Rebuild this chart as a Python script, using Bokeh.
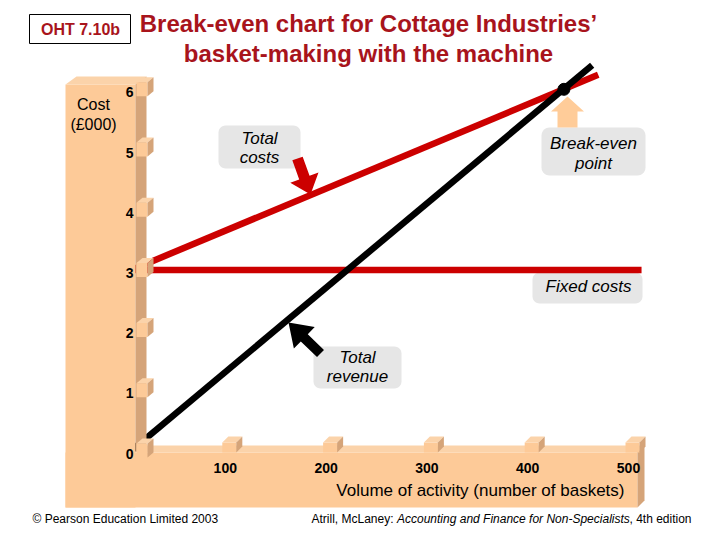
import numpy as np
from bokeh.plotting import figure
from bokeh.models import Range1d
from bokeh.core.properties import value
from bokeh.embed import file_html
from bokeh.resources import INLINE

# ---- data: costs and revenue in £000 against number of baskets ----
volume_ticks = [100, 200, 300, 400, 500]
volume_tick_labels = ["100", "200", "300", "400", "500"]
cost_ticks = [0, 1, 2, 3, 4, 5, 6]
cost_tick_labels = ["0", "1", "2", "3", "4", "5", "6"]

revenue_volume = [0, 457]
total_revenue = [0.0, 6.40]
total_cost_volume = [0, 463]
total_costs = [3.0, 6.24]
fixed_cost_volume = [0, 506]
fixed_costs = [3.0, 3.0]
break_even_volume = [429]
break_even_cost = [6.0]

# ---- canvas geometry: one frame covering the whole page ----
W, H = 720, 540
X0, SX = 131.0, 1.008   # pixel of zero baskets, pixels per basket
Y0, SY = 450.0, 60.2    # pixel of £0, pixels per £000

FONT = value("Liberation Sans")
TITLE_RED = "#A8141C"
LINE_RED = "#CC0000"
TAN = "#FDCA98"
TAN_TOP = "#FBD3AA"
TAN_SIDE = "#D5A479"
CALLOUT = "#E6E6E6"


def to_px(q):
    return X0 + SX * q


def to_py(c):
    return Y0 - SY * c


def dx(px):
    return (np.asarray(px, dtype=float) - X0) / SX


def dy(py):
    return (Y0 - np.asarray(py, dtype=float)) / SY


p = figure(width=W, height=H, output_backend="svg", toolbar_location=None,
           x_range=Range1d(float(dx(0)), float(dx(W))),
           y_range=Range1d(float(dy(H)), float(dy(0))),
           x_axis_type=None, y_axis_type=None, min_border=0)
p.grid.visible = False
p.outline_line_color = None
p.background_fill_color = "white"
p.border_fill_color = "white"


def poly(pts, color, line_color=None, line_width=1):
    xs = [float(dx(a)) for a, b in pts]
    ys = [float(dy(b)) for a, b in pts]
    p.patch(xs, ys, fill_color=color, line_color=line_color, line_width=line_width)


def rounded_box(x0, y0, x1, y1, r, color):
    pts = []
    corners = [(x1 - r, y0 + r, 270, 360), (x1 - r, y1 - r, 0, 90),
               (x0 + r, y1 - r, 90, 180), (x0 + r, y0 + r, 180, 270)]
    for cx, cy, a0, a1 in corners:
        for t in np.radians(np.linspace(a0, a1, 8)):
            pts.append((cx + r * np.cos(t), cy + r * np.sin(t)))
    poly(pts, color)


def arrow(x0, y0, x1, y1, shaft_w, head_w, head_len, color):
    v = np.array([x1 - x0, y1 - y0], dtype=float)
    u = v / np.hypot(*v)
    n = np.array([-u[1], u[0]])
    s = np.array([x0, y0], dtype=float)
    t = np.array([x1, y1], dtype=float)
    neck = t - u * head_len
    pts = [s + n * shaft_w / 2, neck + n * shaft_w / 2, neck + n * head_w / 2, t,
           neck - n * head_w / 2, neck - n * shaft_w / 2, s - n * shaft_w / 2]
    poly([tuple(q) for q in pts], color)


def txt(px, py, s, size, color="black", style="normal", align="center"):
    p.text(x=[float(dx(px))], y=[float(dy(py))], text=[s], text_align=align,
           text_baseline="middle", text_font=FONT, text_font_size=f"{size}px",
           text_font_style=style, text_color=color)


# ---- callout boxes (behind the lines) ----
rounded_box(218, 125, 300, 168, 7, CALLOUT)    # Total costs
rounded_box(541, 127, 645, 175, 8, CALLOUT)    # Break-even point
rounded_box(532, 272, 642, 303, 7, CALLOUT)    # Fixed costs
rounded_box(313, 346, 401, 388, 7, CALLOUT)    # Total revenue

# ---- cost and revenue lines ----
p.line(fixed_cost_volume, fixed_costs, line_color=LINE_RED, line_width=6.5)
p.line(total_cost_volume, total_costs, line_color=LINE_RED, line_width=6.5)
p.line(revenue_volume, total_revenue, line_color="black", line_width=6.5)

# ---- raised 3D axes ----
# vertical bar
poly([(65, 84), (135, 84), (135, 507), (65, 507)], TAN)
poly([(65, 84), (135, 84), (146, 76), (76, 76)], TAN_TOP)
poly([(135, 84), (146, 76), (146, 445), (135, 452)], TAN_SIDE)
# horizontal bar
poly([(65, 452), (637, 452), (637, 507), (65, 507)], TAN)
poly([(135, 452), (637, 452), (644, 445), (146, 445)], TAN_TOP)
poly([(637, 452), (644, 445), (644, 500), (637, 507)], TAN_SIDE)

# tick blocks on the cost axis
for c in cost_ticks:
    yc = to_py(c)
    poly([(136, yc - 7), (147, yc - 7), (147, yc + 7), (136, yc + 7)], TAN)
    poly([(136, yc - 7), (147, yc - 7), (153, yc - 12), (142, yc - 12)], TAN_TOP)
    poly([(147, yc - 7), (153, yc - 12), (153, yc + 2), (147, yc + 7)], TAN_SIDE)

# tick blocks on the volume axis
for q in volume_ticks:
    xc = to_px(q)
    poly([(xc - 10, 442), (xc + 4, 442), (xc + 4, 452), (xc - 10, 452)], TAN)
    poly([(xc - 10, 442), (xc + 4, 442), (xc + 10, 436), (xc - 4, 436)], TAN_TOP)
    poly([(xc + 4, 442), (xc + 10, 436), (xc + 10, 446), (xc + 4, 452)], TAN_SIDE)

# tick labels
for c, lab in zip(cost_ticks, cost_tick_labels):
    txt(133, to_py(c) + 3, lab, 14, style="bold", align="right")
for q, lab in zip(volume_ticks, volume_tick_labels):
    txt(to_px(q) - 7, 467, lab, 14, style="bold")

# axis titles
txt(93, 104, "Cost", 16)
txt(93, 124, "(£000)", 16)
txt(624, 490, "Volume of activity (number of baskets)", 17, align="right")

# ---- callout texts and pointers ----
txt(259, 138, "Total", 17, style="italic")
txt(259, 157, "costs", 17, style="italic")
arrow(297, 158, 310, 194, 11, 30, 18, LINE_RED)

txt(593, 143, "Break-even", 17, style="italic")
txt(593, 163, "point", 17, style="italic")
arrow(567, 127, 567, 96, 20, 33, 15, "#FFCC99")

txt(588, 286, "Fixed costs", 17, style="italic")

txt(357, 357, "Total", 17, style="italic")
txt(357, 376, "revenue", 17, style="italic")
arrow(320, 353, 288, 322, 10, 30, 22, "black")

# break-even point
p.scatter(break_even_volume, break_even_cost, size=12, marker="circle",
          fill_color="black", line_color="black")

# ---- heading ----
p.quad(left=[float(dx(29))], right=[float(dx(130))], top=[float(dy(14))],
       bottom=[float(dy(43))], fill_color="white", line_color="black", line_width=1)
txt(80, 29, "OHT 7.10b", 16, color=TITLE_RED, style="bold")
txt(368, 23, "Break-even chart for Cottage Industries’", 24, color=TITLE_RED, style="bold")
txt(368, 53, "basket-making with the machine", 24, color=TITLE_RED, style="bold")

# ---- footer ----
txt(32, 518, "© Pearson Education Limited 2003", 12, align="left")
txt(311, 518, "Atrill, McLaney: ", 12, align="left")
txt(396.5, 518, "Accounting and Finance for Non-Specialists", 12, style="italic", align="left")
txt(629, 518, ", 4th edition", 12, align="left")

open("out.html", "w").write(file_html(p, INLINE))
